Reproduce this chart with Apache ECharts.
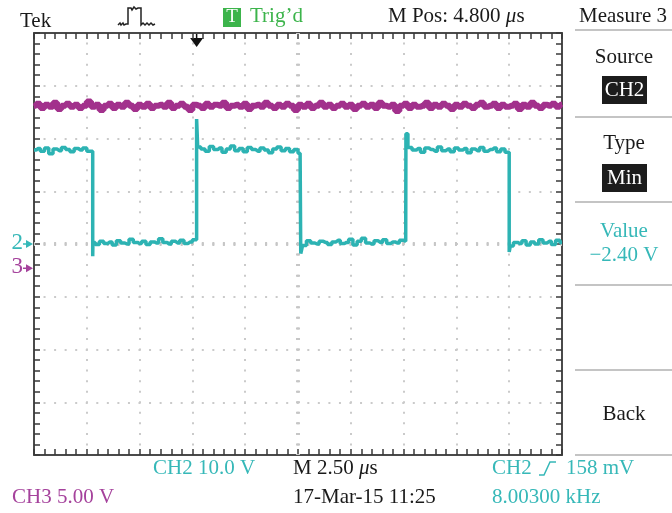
<!DOCTYPE html>
<html>
<head>
<meta charset="utf-8">
<script src="https://cdn.jsdelivr.net/npm/echarts@6/dist/echarts.min.js"></script>
<style>
html, body { margin: 0; padding: 0; background: #fff; }
#scope { width: 672px; height: 513px; }
</style>
</head>
<body>
<div id="scope"></div>
<script>
// time base 2.50 us/div, 10 divisions on screen
var timeMin = 0, timeMax = 25, timeDiv = 2.5;
var sampleStep = 0.2;
var trigTime = 7.7; // M Pos 4.800 us left of centre

// CH2 10.0 V/div, ground at screen centre
var ch2Min = -40, ch2Max = 40, ch2Div = 10;
var ch2Samples = [
    17.8, 18.1, 17.6, 18.2, 17.1, 18.0, 17.7, 18.3, 17.9, 17.5, 18.1, 17.8, 18.2, 17.6,
    0.3, -0.1, 0.5, 0.1, 0.4, -0.2, 0.6, 0.2, 0.0, 0.9, 0.3, 0.1, 0.5, -0.1, 0.4, 0.2, 1.0, 0.3, 0.0, 0.5, 0.2, 0.7, 0.1, 0.4, 0.8,
    18.4, 18.0, 17.6, 18.5, 17.9, 18.2, 17.4, 18.0, 18.6, 17.7, 18.1, 17.5, 18.3, 17.9, 17.6, 18.2, 17.8, 17.3, 18.0, 18.4, 17.7, 18.1, 17.5, 17.9, 17.2,
    -0.3, 0.6, 0.2, 0.0, 0.5, 0.3, -0.1, 0.4, 0.7, 0.1, 0.3, 0.9, -0.2, 0.5, 1.1, 0.2, 0.0, 0.6, 0.3, 0.8, 0.1, 0.4, 0.2, 0.7, 0.5,
    18.3, 17.8, 18.1, 17.4, 18.2, 17.9, 17.6, 18.4, 17.7, 18.0, 17.5, 18.2, 17.8, 18.1, 17.3, 18.0, 17.7, 18.3, 17.6, 17.9, 18.2, 17.5, 18.0, 17.4,
    -0.4, 0.3, 0.1, 0.6, -0.2, 0.4, 0.0, 0.8, 0.2, 0.5, -0.1, 0.7, 0.3
];
// edges: [time us, overshoot V]
var ch2Edges = [[2.78, -2.3], [7.70, 23.7], [12.63, -1.8], [17.61, 20.9], [22.50, -1.5]];

// CH3 5.00 V/div, ground 0.46 div below centre
var ch3Min = -17.7, ch3Max = 22.3;
var ch3Samples = [
    15.4, 15.6, 15.2, 15.5, 15.3, 15.7, 15.1, 15.4, 15.6, 15.3,
    15.5, 15.2, 15.4, 15.8, 15.3, 15.5, 15.0, 15.4, 15.6, 15.2,
    15.5, 15.3, 15.7, 15.4, 15.1, 15.5, 15.3, 15.6, 15.2, 15.4,
    15.5, 15.3, 15.7, 15.2, 15.4, 15.6, 15.3, 15.0, 15.5, 15.4,
    15.2, 15.6, 15.3, 15.5, 15.4, 15.7, 15.2, 15.4, 15.5, 15.3,
    15.6, 15.1, 15.4, 15.5, 15.3, 15.7, 15.4, 15.2, 15.5, 15.3,
    15.6, 15.4, 15.0, 15.5, 15.3, 15.6, 15.2, 15.4, 15.7, 15.3,
    15.5, 15.2, 15.4, 15.6, 15.3, 15.5, 15.1, 15.4, 15.6, 15.3,
    15.5, 15.2, 15.7, 15.4, 15.3, 15.5, 14.9, 15.4, 15.6, 15.2,
    15.5, 15.3, 15.4, 15.7, 15.2, 15.5, 15.3, 15.6, 15.4, 15.1,
    15.5, 15.3, 15.6, 15.4, 15.2, 15.5, 15.7, 15.3, 15.4, 15.6,
    15.2, 15.5, 15.3, 15.4, 15.6, 15.1, 15.5, 15.3, 15.7, 15.4,
    15.2, 15.5, 15.4, 15.6, 15.3, 15.5
];

var cyan = '#2db3b3', cyanText = '#36b8b8', magenta = '#a2318c', magentaText = '#a5429c';
var serif = '"Liberation Serif", "DejaVu Serif", serif';
var fontSize = 21;

function sampleTime(i) { return +(i * sampleStep).toFixed(2); }

var ch3Data = ch3Samples.map(function (v, i) { return [sampleTime(i), v]; });
var ch2Data = [], e = 0;
for (var i = 0; i < ch2Samples.length; i++) {
    var t = sampleTime(i);
    while (e < ch2Edges.length && ch2Edges[e][0] < t) {
        ch2Data.push([ch2Edges[e][0], ch2Samples[i - 1]]);
        ch2Data.push([ch2Edges[e][0], ch2Edges[e][1]]);
        e++;
    }
    ch2Data.push([t, ch2Samples[i]]);
}

var frame = { color: '#4a4a4a', width: 2 };
var tickStyle = { color: '#3a3a3a', width: 1.5 };
var dots = { color: '#cacaca', width: 2, type: [2, 8.55], dashOffset: 1 };

function xAx(pos, grid) {
    return {
        type: 'value', position: pos, min: timeMin, max: timeMax, interval: timeDiv,
        axisLine: { show: true, onZero: false, lineStyle: frame },
        axisTick: { show: true, inside: true, length: 6, lineStyle: tickStyle },
        minorTick: { show: true, splitNumber: 5, length: 6, lineStyle: tickStyle },
        axisLabel: { show: false },
        splitLine: { show: grid, lineStyle: dots }
    };
}
function yAx(pos, grid) {
    return {
        type: 'value', position: pos, min: ch2Min, max: ch2Max, interval: ch2Div,
        axisLine: { show: true, onZero: false, lineStyle: frame },
        axisTick: { show: true, inside: true, length: 6, lineStyle: tickStyle },
        minorTick: { show: true, splitNumber: 5, length: 6, lineStyle: tickStyle },
        axisLabel: { show: false },
        splitLine: { show: grid, lineStyle: dots }
    };
}

function txt(s, x, y, color, align, size) {
    return {
        type: 'text', x: x, y: y, silent: true,
        style: {
            text: s, fill: color || '#1a1a1a', font: (size || fontSize) + 'px ' + serif,
            textAlign: align || 'left', textVerticalAlign: 'middle'
        }
    };
}
function usText(pre, x, y) {
    return {
        type: 'text', x: x, y: y, silent: true,
        style: {
            text: '{a|' + pre + '}{i|\u03bc}{a|s}',
            fill: '#1a1a1a', textVerticalAlign: 'middle',
            rich: {
                a: { fontFamily: serif, fontSize: fontSize, fill: '#1a1a1a' },
                i: { fontFamily: serif, fontSize: fontSize, fontStyle: 'italic', fill: '#1a1a1a' }
            }
        }
    };
}
function sep(y) {
    return { type: 'line', silent: true, shape: { x1: 575, y1: y, x2: 672, y2: y }, style: { stroke: '#c4c4c4', lineWidth: 2 } };
}
function box(y) {
    return { type: 'rect', silent: true, shape: { x: 602, y: y, width: 45, height: 28 }, style: { fill: '#1c1c1c' } };
}

var scope = echarts.init(document.getElementById('scope'));
scope.setOption({
    animation: false,
    backgroundColor: '#fff',
    grid: { left: 34, top: 33, width: 528, height: 422 },
    xAxis: [xAx('bottom', true), xAx('top', false)],
    yAxis: [yAx('left', true), yAx('right', false), { type: 'value', show: false, min: ch3Min, max: ch3Max }],
    series: [{
        name: 'CH3', type: 'line', xAxisIndex: 0, yAxisIndex: 2, data: ch3Data, z: 3,
        showSymbol: false, symbol: 'none', clip: true, step: 'middle',
        lineStyle: { color: magenta, width: 6 }
    }, {
        name: 'CH2', type: 'line', xAxisIndex: 0, yAxisIndex: 0, data: ch2Data, z: 4,
        showSymbol: false, symbol: 'none', clip: true, step: 'middle',
        lineStyle: { color: cyan, width: 3.5 },
        markLine: {
            z: 1, silent: true, symbol: ['none', 'none'], label: { show: false },
            lineStyle: { color: '#c6c6c6', width: 4, type: [2, 8.55], dashOffset: 1 },
            data: [{ yAxis: 0 }, { xAxis: (timeMin + timeMax) / 2 }]
        }
    }]
});

// markers placed through the chart's own scales
var g2 = scope.convertToPixel({ yAxisIndex: 0 }, 0);
var g3 = scope.convertToPixel({ yAxisIndex: 2 }, 0);
var trigX = scope.convertToPixel({ xAxisIndex: 0 }, trigTime);

function chMarker(label, y, color) {
    return [
        txt(label, 23, y - 1, color, 'right', 23),
        { type: 'polygon', silent: true, shape: { points: [[26, y - 4], [33, y], [26, y + 4]] }, style: { fill: color } },
        { type: 'line', silent: true, shape: { x1: 23, y1: y, x2: 28, y2: y }, style: { stroke: color, lineWidth: 1.5 } }
    ];
}

var elements = [
    txt('Tek', 20, 21),
    { type: 'polyline', silent: true, shape: { points: [[118, 25], [120, 23], [121, 25], [123, 23], [124, 25], [126, 24], [128, 24], [128, 8], [131, 8], [132, 10], [134, 7], [136, 9], [138, 8], [141, 8], [141, 25], [143, 23], [145, 25], [147, 23], [149, 25], [151, 23], [153, 25], [155, 24]] }, style: { stroke: '#222', lineWidth: 1.5, fill: null } },
    { type: 'rect', silent: true, shape: { x: 223, y: 8, width: 18, height: 19 }, style: { fill: '#3cb44b' } },
    txt('T', 232, 17.5, '#fff', 'center', 19),
    txt('Trig\u2019d', 250, 16, '#3cb44b'),
    usText('M Pos: 4.800 ', 388, 16),
    txt('Measure 3', 623, 16.5, '#1a1a1a', 'center'),
    sep(30), sep(117), sep(202), sep(285), sep(370), sep(455),
    txt('Source', 624, 57.5, '#1a1a1a', 'center'),
    box(76), txt('CH2', 624.5, 90, '#fff', 'center'),
    txt('Type', 624, 143, '#1a1a1a', 'center'),
    box(164), txt('Min', 624.5, 178, '#fff', 'center'),
    txt('Value', 624, 231, cyanText, 'center'),
    txt('\u22122.40 V', 624, 255.5, cyanText, 'center'),
    txt('Back', 624, 414, '#1a1a1a', 'center'),
    txt('CH2 10.0 V', 153, 468, cyanText),
    usText('M 2.50 ', 293, 468),
    txt('CH2', 492, 468, cyanText),
    { type: 'polyline', silent: true, shape: { points: [[539, 475], [544, 475], [550, 462], [556, 462]] }, style: { stroke: cyanText, lineWidth: 1.5, fill: null } },
    txt('158 mV', 566, 468, cyanText),
    txt('CH3 5.00 V', 12, 497.5, magentaText),
    txt('17-Mar-15 11:25', 293, 497.5),
    txt('8.00300 kHz', 492, 497.5, cyanText),
    { type: 'polygon', silent: true, shape: { points: [[trigX - 6.5, 38], [trigX + 6.5, 38], [trigX, 47]] }, style: { fill: '#111' } },
    { type: 'line', silent: true, shape: { x1: trigX, y1: 33, x2: trigX, y2: 39 }, style: { stroke: '#111', lineWidth: 1.5 } }
].concat(chMarker('2', g2, cyanText), chMarker('3', g3, magentaText));

scope.setOption({ graphic: { elements: elements } });
</script>
</body>
</html>
